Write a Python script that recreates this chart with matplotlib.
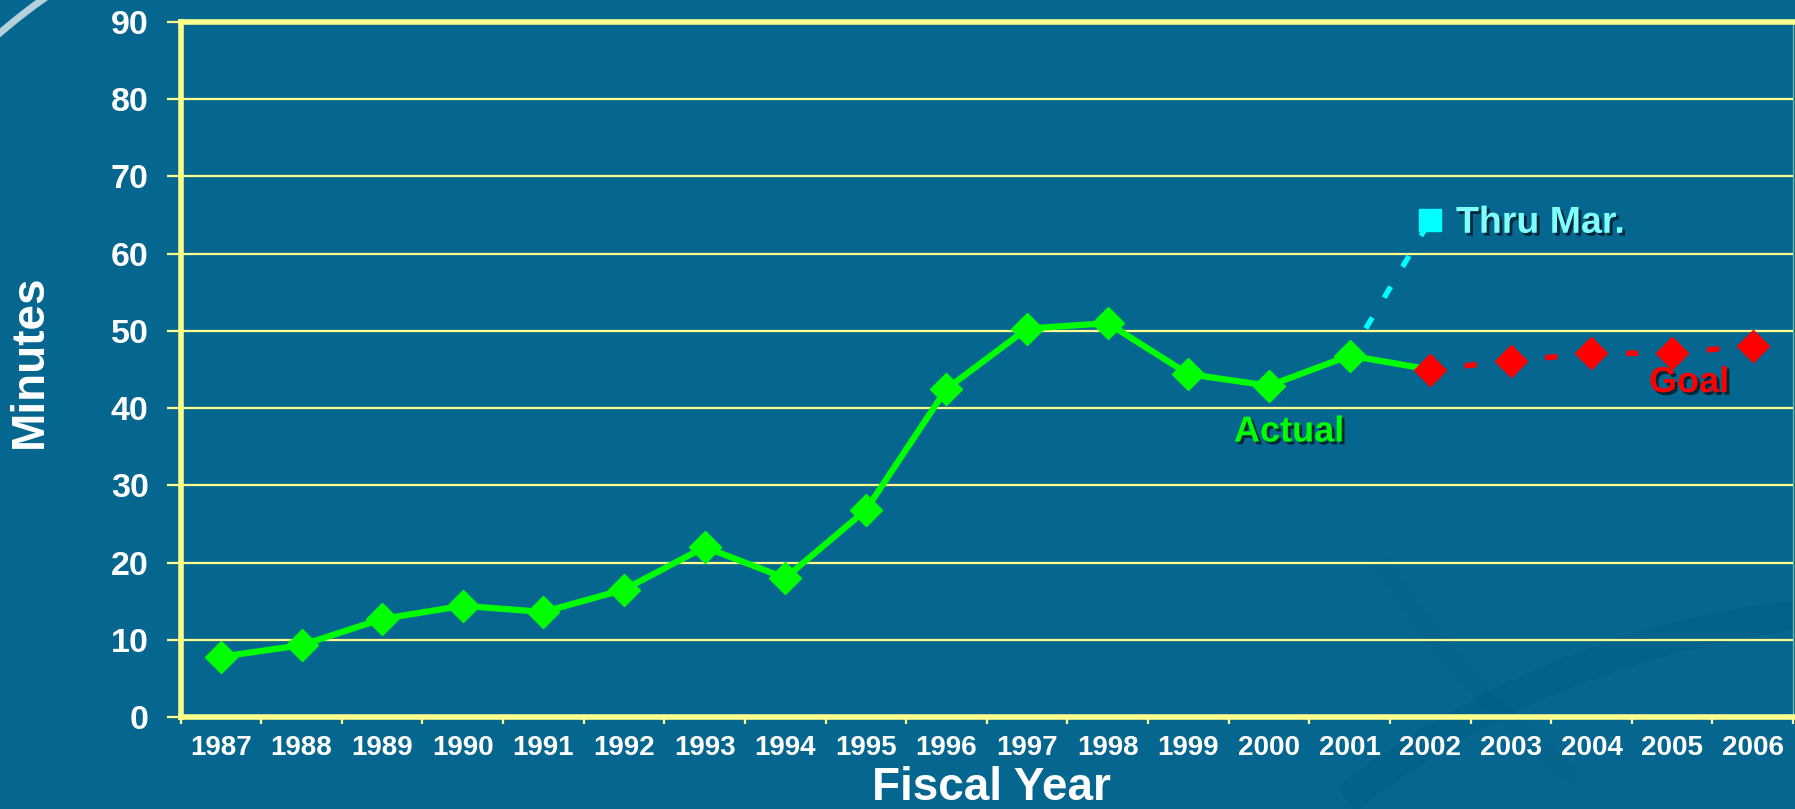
import numpy as np
import matplotlib

matplotlib.use("Agg")
import matplotlib.pyplot as plt
from matplotlib import patheffects as pe
from matplotlib.patches import Arc

plt.rcParams["font.family"] = ["Liberation Sans", "DejaVu Sans"]
plt.rcParams["font.weight"] = "bold"

# 数据
years = [str(y) for y in range(1987, 2007)]
actual_years = years[:16]
actual = [7.8, 9.3, 12.7, 14.4, 13.6, 16.5, 22.0, 18.0, 26.8, 42.5,
          50.3, 51.0, 44.4, 42.9, 46.8, 45.0]
goal_years = ["2002", "2003", "2004", "2005", "2006"]
goal = [45.0, 46.1, 47.1, 47.1, 48.1]
thru_years = ["2001", "2002"]
thru = [46.8, 64.3]
y_ticks = list(range(0, 100, 10))

BG = "#05678f"
YEL = "#ffff8c"

W, H = 1795, 809
fig = plt.figure(figsize=(W / 100, H / 100), dpi=100, facecolor=BG)

# 背景装饰弧线
fig.add_artist(Arc((400, 309), 1230, 1230, theta1=119, theta2=136,
                   transform=None, color="#d8e4ea", lw=5, alpha=0.85, zorder=0))
fig.add_artist(Arc((1900, -700), 1800, 1800, theta1=90, theta2=128,
                   transform=None, color="#005a82", lw=22, alpha=0.35, zorder=0))
fig.add_artist(Arc((2100, 700), 1700, 1700, theta1=212, theta2=232,
                   transform=None, color="#005a82", lw=12, alpha=0.2, zorder=0))

ax = fig.add_axes([180.6 / W, 92 / H, (1793 - 180.6) / W, 695 / H])
ax.set_facecolor("none")

pos = {y: i for i, y in enumerate(years)}
xa = [pos[y] for y in actual_years]
xg = [pos[y] for y in goal_years]
xt = [pos[y] for y in thru_years]

# Thru Mar. 虚线
ax.plot(xt, thru, color="#00ffff", lw=3.8, linestyle=(0.8, (2.4, 4.4)),
        zorder=2, dash_capstyle="butt")
ax.plot(xt[-1:], thru[-1:], "s", color="#00ffff", ms=16.5, zorder=5)

# 实际值
ax.plot(xa, actual, color="#00ff00", lw=4.5, marker="D", ms=16.5,
        markevery=list(range(len(xa) - 1)), zorder=3)

# 目标
ax.plot(xg, goal, color="#ff0000", lw=4, linestyle=(1.1, (2.2, 5.1)),
        marker="D", ms=16.5, zorder=4, dash_capstyle="butt")

ax.set_xlim(-0.5, len(years) - 0.5)
ax.set_ylim(0, 90)
ax.set_yticks(y_ticks)
ax.set_xticks(range(len(years)))
ax.set_xticklabels(years)
ax.set_xticks(np.arange(-0.5, len(years)), minor=True)

ax.grid(axis="y", color=YEL, lw=1.6)
ax.set_axisbelow(True)

for s in ["left", "bottom", "top"]:
    ax.spines[s].set_color(YEL)
    ax.spines[s].set_linewidth(4)
ax.spines["right"].set_color("#c8e6a0")
ax.spines["right"].set_linewidth(1)
ax.spines["right"].set_alpha(0.6)

ax.tick_params(axis="y", colors=YEL, labelcolor="white", labelsize=24.5,
               length=10, width=1.6, pad=13)
ax.tick_params(axis="x", which="major", length=0, labelcolor="white",
               labelsize=20, pad=13)
ax.tick_params(axis="x", which="minor", colors=YEL, length=5, width=1.6)

ax.set_xlabel("Fiscal Year", color="white", fontsize=33, fontweight="bold",
              va="center")
ax.xaxis.set_label_coords(0.503, -0.102)
ax.set_ylabel("Minutes", color="white", fontsize=33, fontweight="bold",
              va="center")
ax.yaxis.set_label_coords(-0.0936, 0.512)

shadow = [pe.withSimplePatchShadow(offset=(2, -2), shadow_rgbFace="#00202e",
                                   alpha=0.9)]
ax.text(13.25, 36.9, "Actual", color="#00ff00", fontsize=26, ha="center",
        va="center", path_effects=shadow, zorder=6)
ax.text(18.21, 43.3, "Goal", color="#ff0000", fontsize=26, ha="center",
        va="center", path_effects=shadow, zorder=6)
ax.text(15.32, 64.0, "Thru Mar.", color="#7fffff", fontsize=27, ha="left",
        va="center", path_effects=shadow, zorder=6)

fig.savefig("out.png", dpi=100, facecolor=BG)
